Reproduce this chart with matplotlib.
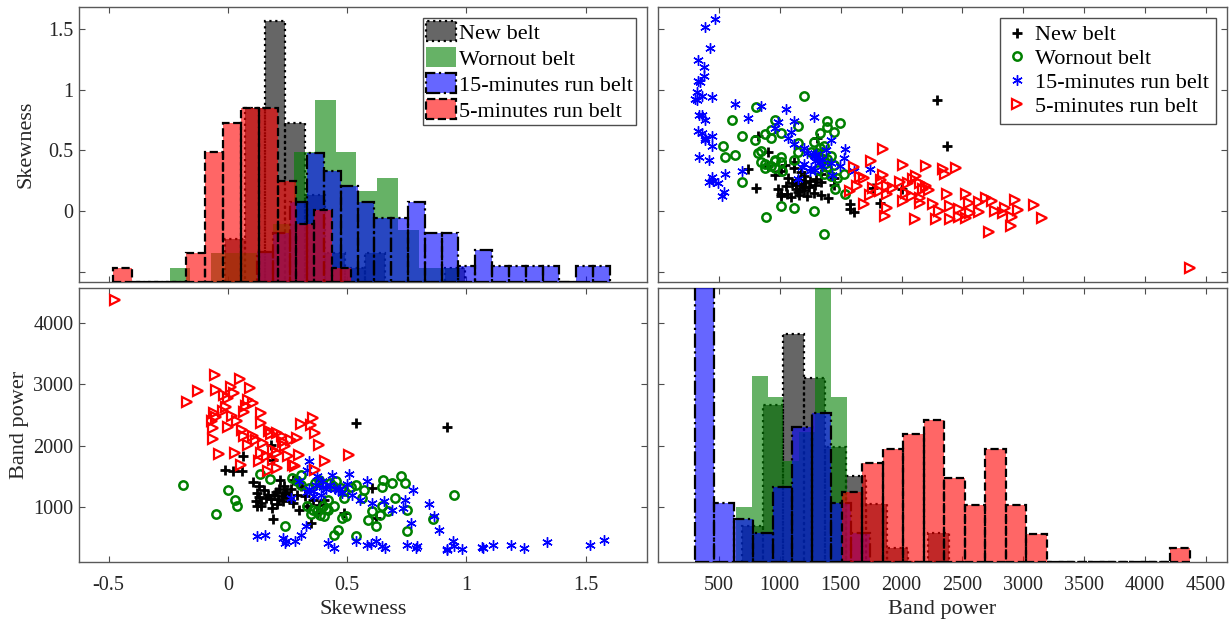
import numpy as np
import matplotlib
matplotlib.use('Agg')
import matplotlib.pyplot as plt
from matplotlib.patches import Patch

plt.rcParams['font.family'] = ['Liberation Serif', 'DejaVu Serif']
plt.rcParams['axes.unicode_minus'] = False

groups = ['New belt', 'Wornout belt', '15-minutes run belt', '5-minutes run belt']
colors = ['k', (0, 0.5, 0), 'b', 'r']
markers = ['+', 'o', (6, 2, 0), '>']
edge_styles = [':', 'none', '-.', '--']

# ---- scatter data (skewness, band power) ----
new_skew = [0.537, 0.917, -0.012, 0.020, 0.058, 0.063, 0.182, 0.190, 0.104, 0.132,
            0.124, 0.116, 0.124, 0.140, 0.170, 0.183, 0.190, 0.200, 0.215, 0.225,
            0.235, 0.210, 0.195, 0.245, 0.218, 0.273, 0.300, 0.322, 0.355, 0.347,
            0.372, 0.405, 0.488, 0.603, 0.620, 0.306, 0.273, 0.150, 0.160, 0.230,
            0.255, 0.205, 0.265, 0.290, 0.140, 0.180, 0.240, 0.330, 0.380, 0.130]
new_power = [2375, 2294, 1606, 1579, 1579, 1823, 2002, 1769, 1400, 1336,
             1227, 1092, 1011, 1060, 1200, 984, 805, 1240, 1290, 1180,
             1340, 1130, 1190, 1250, 1444, 1065, 957, 1173, 1119, 740,
             902, 1119, 902, 1309, 821, 1336, 1444, 1280, 1150, 1100,
             1150, 1050, 1300, 1200, 1010, 1130, 1210, 1010, 1040, 1160]

worn_skew = [-0.187, -0.050, 0.000, 0.028, 0.038, 0.136, 0.177, 0.240, 0.270, 0.306,
             0.290, 0.306, 0.340, 0.380, 0.364, 0.355, 0.388, 0.372, 0.405, 0.418,
             0.421, 0.446, 0.446, 0.463, 0.430, 0.455, 0.474, 0.488, 0.479, 0.496,
             0.488, 0.537, 0.537, 0.562, 0.570, 0.587, 0.603, 0.620, 0.636, 0.645,
             0.650, 0.645, 0.670, 0.690, 0.702, 0.727, 0.744, 0.752, 0.752, 0.860,
             0.950, 0.400, 0.330, 0.440, 0.395, 0.515, 0.350, 0.410]
worn_power = [1363, 886, 1282, 1119, 1011, 1536, 1455, 686, 1471, 1525,
              1420, 1363, 1310, 1444, 1390, 957, 875, 930, 848, 1119,
              957, 1011, 550, 632, 1390, 1420, 1309, 1260, 821, 848,
              1146, 1363, 534, 1146, 1282, 794, 930, 686, 875, 1011,
              1444, 1330, 930, 1390, 1146, 1498, 1390, 957, 604, 805,
              1200, 1010, 1020, 1340, 1380, 1330, 880, 960]

run15_skew = [0.124, 0.157, 0.231, 0.240, 0.245, 0.281, 0.306, 0.326, 0.264, 0.342,
              0.331, 0.372, 0.355, 0.400, 0.390, 0.438, 0.421, 0.446, 0.507, 0.500,
              0.520, 0.537, 0.554, 0.583, 0.583, 0.603, 0.620, 0.653, 0.645, 0.686,
              0.736, 0.744, 0.752, 0.769, 0.777, 0.793, 0.843, 0.863, 0.884, 0.917,
              0.942, 0.950, 0.980, 1.066, 1.070, 1.112, 1.188, 1.243, 1.339, 1.516,
              1.578, 0.410, 0.430, 0.460, 0.470, 0.480, 0.340, 0.370, 0.395, 0.330,
              0.300, 0.450, 0.360, 0.790, 0.660, 0.600, 0.920]
run15_power = [523, 540, 496, 415, 450, 442, 550, 686, 1146, 1742,
               1606, 1498, 1260, 1330, 1200, 1525, 415, 334, 1536, 1380,
               1200, 442, 1119, 1417, 388, 1065, 442, 1092, 361, 957,
               984, 1119, 388, 740, 1282, 361, 1054, 848, 632, 318,
               442, 361, 318, 345, 330, 377, 377, 328, 431, 388,
               470, 1290, 1350, 1280, 1300, 1220, 1290, 1350, 1420, 1250,
               1430, 1290, 1180, 340, 330, 390, 300]

run5_skew = [-0.471, -0.055, 0.050, -0.127, -0.170, 0.012, 0.091, -0.050, -0.017, 0.000,
             0.025, -0.008, 0.086, 0.107, 0.074, 0.066, -0.058, -0.050, -0.066, 0.017,
             0.140, 0.140, 0.000, 0.058, -0.063, 0.066, -0.063, 0.107, 0.083, 0.149,
             0.174, 0.207, 0.227, 0.264, 0.240, 0.290, 0.306, 0.347, 0.355, 0.367,
             0.380, 0.298, 0.190, 0.140, -0.038, 0.028, 0.055, 0.132, 0.165, 0.190,
             0.207, 0.273, 0.253, 0.408, 0.507, 0.364, 0.167, 0.207, 0.230, 0.120,
             -0.020, 0.040, 0.280, 0.180]
run5_power = [4368, 3150, 3085, 2895, 2717, 2960, 2933, 2906, 2830, 2770,
              2850, 2635, 2744, 2690, 2640, 2554, 2527, 2470, 2400, 2473,
              2527, 2375, 2310, 2260, 2283, 2148, 2110, 2148, 2012, 2040,
              2229, 2202, 2148, 2094, 1985, 2120, 2354, 2337, 2446, 2202,
              2012, 1850, 1931, 1877, 1866, 1877, 1688, 1742, 1823, 1769,
              1877, 1688, 1834, 1753, 1850, 1606, 1579, 1634, 2050, 2090,
              2560, 2400, 1660, 2180]

skew_data = [new_skew, worn_skew, run15_skew, run5_skew]
power_data = [new_power, worn_power, run15_power, run5_power]

# ---- histograms: first bin edge, bin width, bar heights ----
skew_bin_start = [-0.01, -0.244, 0.1205, -0.48]
skew_bin_width = [0.0838, 0.087, 0.0705, 0.0765]
skew_hist_new = [3, 12, 18, 11, 6, 2, 1, 2, 0, 0, 0, 1]
skew_hist_worn = [1, 0, 2, 2, 2, 4, 9, 12.6, 9, 6.3, 7.2, 3.6, 1, 1]
skew_hist_run15 = [2.1, 3.4, 5.5, 8.9, 7.7, 6.6, 5.5, 4.4, 4.4, 5.5, 3.4, 3.4,
                   1.1, 2.2, 1.1, 1.1, 1.1, 1.1, 0, 1.1, 1.1]
skew_hist_run5 = [1, 0, 0, 0, 2, 9, 11, 12, 12, 7, 4, 5, 1]

power_bin_start = [690, 640, 304, 1508]
power_bin_width = [170, 130, 160, 168.5]
power_hist_new = [2.5, 10.8, 15.7, 12.7, 7.9, 5.9, 4.0, 1.0, 0, 2.0]
power_hist_worn = [3.8, 12.8, 11.4, 7, 9, 21, 11.4]
power_hist_run15 = [22, 4.1, 3.0, 2.0, 5.2, 9.3, 10.3, 4.1, 2.0]
power_hist_run5 = [4.8, 6.8, 7.8, 8.8, 9.8, 5.8, 3.9, 7.8, 3.9, 1.9,
                   0, 0, 0, 0, 0, 0, 1.0]

skew_hists = [skew_hist_new, skew_hist_worn, skew_hist_run15, skew_hist_run5]
power_hists = [power_hist_new, power_hist_worn, power_hist_run15, power_hist_run5]

skew_ticks = [-0.5, 0, 0.5, 1, 1.5]
skew_labels = ['-0.5', '0', '0.5', '1', '1.5']
power_xticks = [500, 1000, 1500, 2000, 2500, 3000, 3500, 4000, 4500]
power_yticks = [1000, 2000, 3000, 4000]

skew_xlim = (-0.624, 1.757)
skew_ylim = (-0.585, 1.680)
power_xlim = (0, 4673)
power_ylim = (104, 4565)

fig = plt.figure(figsize=(12.29, 6.22), dpi=100)
W, Hf = 1229.0, 622.0
ax_tl = fig.add_axes([79 / W, 1 - 282 / Hf, 568 / W, 275 / Hf])
ax_tr = fig.add_axes([658 / W, 1 - 282 / Hf, 569 / W, 275 / Hf])
ax_bl = fig.add_axes([79 / W, 1 - 562 / Hf, 568 / W, 274 / Hf])
ax_br = fig.add_axes([658 / W, 1 - 562 / Hf, 569 / W, 274 / Hf])

for ax in [ax_tl, ax_tr, ax_bl, ax_br]:
    ax.tick_params(direction='in', top=True, right=True, length=4, width=0.8,
                   color='0.3', labelsize=14.5, labelcolor='0.15')
    ax.tick_params(axis='x', pad=10)
    ax.tick_params(axis='y', pad=4)
    for s in ax.spines.values():
        s.set_color('0.35')
        s.set_linewidth(1.0)

# scatter panels
for i in range(4):
    kw = dict(ls='none', marker=markers[i], color=colors[i], mfc='none')
    if i == 0:
        kw.update(ms=7, mew=2)
    elif i == 1:
        kw.update(ms=6, mew=1.8)
    elif i == 2:
        kw.update(ms=7.5, mew=1.0)
    else:
        kw.update(ms=7, mew=1.6)
    ax_bl.plot(skew_data[i], power_data[i], **kw)
    ax_tr.plot(power_data[i], skew_data[i], label=groups[i], **kw)


def draw_hist(ax, starts, widths, hists):
    for i in range(4):
        h = np.array(hists[i], dtype=float)
        left = starts[i] + widths[i] * np.arange(len(h))
        ax.bar(left, h, width=widths[i], align='edge', color=colors[i],
               alpha=0.6, edgecolor='none')
        if edge_styles[i] != 'none':
            ax.bar(left, h, width=widths[i], align='edge', fill=False,
                   edgecolor='k', linestyle=edge_styles[i], lw=1.6)


hax_tl = ax_tl.twinx()
draw_hist(hax_tl, skew_bin_start, skew_bin_width, skew_hists)
hax_tl.set_ylim(0, 19)
hax_tl.axis('off')

hax_br = ax_br.twinx()
draw_hist(hax_br, power_bin_start, power_bin_width, power_hists)
hax_br.set_ylim(0, 18.9)
hax_br.axis('off')

# limits and ticks
for ax in [ax_tl, ax_bl]:
    ax.set_xlim(skew_xlim)
    ax.set_xticks(skew_ticks)
for ax in [ax_tr, ax_br]:
    ax.set_xlim(power_xlim)
    ax.set_xticks(power_xticks)
for ax in [ax_tl, ax_tr]:
    ax.set_ylim(skew_ylim)
    ax.set_yticks(skew_ticks)
for ax in [ax_bl, ax_br]:
    ax.set_ylim(power_ylim)
    ax.set_yticks(power_yticks)

ax_tl.set_yticklabels([''] + skew_labels[1:])
ax_tl.tick_params(labelbottom=False)
ax_tr.tick_params(labelbottom=False, labelleft=False)
ax_br.tick_params(labelleft=False)
ax_bl.set_xticklabels(skew_labels)
ax_bl.set_yticklabels([str(t) for t in power_yticks])
ax_br.set_xticklabels([str(t) for t in power_xticks])

ax_tl.set_ylabel('Skewness', fontsize=16, color='0.15')
ax_bl.set_ylabel('Band power', fontsize=16, color='0.15')
ax_bl.set_xlabel('Skewness', fontsize=16, color='0.15')
ax_br.set_xlabel('Band power', fontsize=16, color='0.15')
ax_tl.yaxis.set_label_coords(-0.076, 0.5)
ax_bl.yaxis.set_label_coords(-0.088, 0.5)
ax_bl.xaxis.set_label_coords(0.5, -0.14)
ax_br.xaxis.set_label_coords(0.5, -0.14)

# legends
hist_handles = []
for i in range(4):
    face = Patch(facecolor=colors[i], alpha=0.6, edgecolor='none')
    if edge_styles[i] == 'none':
        hist_handles.append(face)
    else:
        edge = Patch(fill=False, edgecolor='k', linestyle=edge_styles[i], lw=1.6)
        hist_handles.append((face, edge))
leg1 = hax_tl.legend(hist_handles, groups, loc='upper right', fontsize=16,
                     handlelength=1.35, handleheight=1.0, handletextpad=0.1,
                     borderpad=0.15, labelspacing=0.15, borderaxespad=0.5,
                     fancybox=False, framealpha=1, edgecolor='0.3')
leg1.get_frame().set_linewidth(1.0)

leg2 = ax_tr.legend(loc='upper right', fontsize=16, handlelength=1.0,
                    handletextpad=0.3, borderpad=0.3, labelspacing=0.15,
                    borderaxespad=0.5, fancybox=False, framealpha=1,
                    edgecolor='0.3')
leg2.get_frame().set_linewidth(1.0)

fig.savefig('out.png', dpi=100)
